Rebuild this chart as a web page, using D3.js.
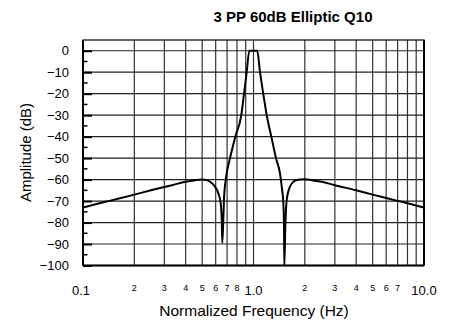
<!DOCTYPE html>
<html><head><meta charset="utf-8">
<script src="https://cdn.jsdelivr.net/npm/d3@7"></script>
<style>
html,body{margin:0;padding:0;background:#fff;}
svg{display:block;font-family:"Liberation Sans",Arial,sans-serif;}
</style></head>
<body><svg id="c" width="453" height="320"></svg>
<script>
const title = "3 PP 60dB Elliptic Q10";
const xTitle = "Normalized Frequency (Hz)";
const yTitle = "Amplitude (dB)";
const freq = [0.1,0.125,0.143,0.167,0.2,0.25,0.333,0.4,0.455,0.5,0.53,0.556,0.5945,0.622,0.642,0.651,0.656,0.665,0.671,0.687,0.702,0.728,0.782,0.848,0.88,0.912,0.945,1.052,1.092,1.141,1.195,1.272,1.355,1.43,1.464,1.496,1.51,1.516,1.537,1.566,1.637,1.751,1.874,2.0,2.2,2.5,3.0,4.0,5.0,6.0,7.0,8.0,10.0];
const amp  = [-73,-71.0,-69.9,-68.6,-67.0,-65.0,-62.6,-61.0,-60.3,-60.0,-60.2,-61,-63.3,-66.4,-71,-78.8,-89.4,-78.8,-69.5,-60.2,-55.5,-50,-40,-30,-20,-10,0,0,-10,-20,-30,-40,-50,-57.1,-63.3,-71,-81.9,-100,-82,-69.5,-63.3,-60.5,-59.9,-59.8,-60.3,-61.0,-62.6,-65.0,-67.0,-68.6,-69.9,-71.0,-73];
const yMajor = [0,-10,-20,-30,-40,-50,-60,-70,-80,-90,-100];
const yMinor = [-5,-15,-25,-35,-45,-55,-65,-75,-85,-95];
const xGrid = [0.2,0.3,0.4,0.5,0.6,0.7,0.8,0.9,1,2,3,4,5,6,7,8,9];
const xMainLabels = [[0.1,"0.1"],[1,"1.0"],[10,"10.0"]];
const xMinorLabels = [[0.2,"2"],[0.3,"3"],[0.4,"4"],[0.5,"5"],[0.6,"6"],[0.7,"7"],[0.8,"8"],[2,"2"],[3,"3"],[4,"4"],[5,"5"],[6,"6"],[7,"7"]];

const svg = d3.select("#c");
const L=83, R=424, T=40, B=265.5;
const x = d3.scaleLog().domain([0.1,10]).range([L,R]);
const y = d3.scaleLinear().domain([-100,5]).range([B,T]);

// grid
svg.append("g").selectAll("line").data(xGrid).join("line")
  .attr("x1",d=>x(d)).attr("x2",d=>x(d)).attr("y1",T).attr("y2",B)
  .attr("stroke","#333").attr("stroke-width",1.2);
svg.append("g").selectAll("line").data(yMajor).join("line")
  .attr("x1",L).attr("x2",R).attr("y1",d=>y(d)).attr("y2",d=>y(d))
  .attr("stroke","#222").attr("stroke-width",1.2);

// y axis with inward ticks
const yAx = svg.append("g").attr("transform",`translate(${L},0)`)
  .call(d3.axisLeft(y).tickValues(yMajor).tickSize(-9).tickPadding(14).tickFormat(d3.format("d")));
yAx.select(".domain").remove();
yAx.selectAll(".tick line").attr("stroke","#000").attr("stroke-width",2);
yAx.selectAll(".tick text").attr("font-size",13).attr("font-family","Liberation Sans, Arial, sans-serif").attr("fill","#000");
svg.append("g").selectAll("line").data(yMinor).join("line")
  .attr("x1",L).attr("x2",L+4.5).attr("y1",d=>y(d)).attr("y2",d=>y(d))
  .attr("stroke","#000").attr("stroke-width",1.5);

// frame
svg.append("rect").attr("x",L).attr("y",T).attr("width",R-L).attr("height",B-T)
  .attr("fill","none").attr("stroke","#000").attr("stroke-width",1.2);
svg.append("line").attr("x1",L).attr("x2",L).attr("y1",T).attr("y2",B).attr("stroke","#000").attr("stroke-width",2);
svg.append("line").attr("x1",R).attr("x2",R).attr("y1",T).attr("y2",B).attr("stroke","#000").attr("stroke-width",2);
svg.append("line").attr("x1",L).attr("x2",R).attr("y1",B).attr("y2",B).attr("stroke","#000").attr("stroke-width",2);

// x labels
svg.append("g").selectAll("text").data(xMainLabels).join("text")
  .attr("x",d=>x(d[0])-(d[0]===0.1?2:0)).attr("y",295)
  .attr("text-anchor","middle").attr("font-size",13).text(d=>d[1]);
svg.append("g").selectAll("text").data(xMinorLabels).join("text")
  .attr("x",d=>x(d[0])).attr("y",290.5)
  .attr("text-anchor","middle").attr("font-size",9).text(d=>d[1]);

// curve
const line = d3.line().x((d,i)=>x(freq[i])).y((d,i)=>y(amp[i])).curve(d3.curveMonotoneX);
svg.append("path").datum(freq).attr("d",line).attr("fill","none")
  .attr("stroke","#000").attr("stroke-width",2).attr("stroke-linejoin","round");

// titles
svg.append("text").attr("x",293).attr("y",21.5).attr("text-anchor","middle")
  .attr("font-size",15).attr("font-weight","bold").text(title);
svg.append("text").attr("x",254).attr("y",316).attr("text-anchor","middle")
  .attr("font-size",15.5).text(xTitle);
svg.append("text").attr("transform","translate(31,152.5) rotate(-90)").attr("text-anchor","middle")
  .attr("font-size",15).text(yTitle);
</script></body></html>
